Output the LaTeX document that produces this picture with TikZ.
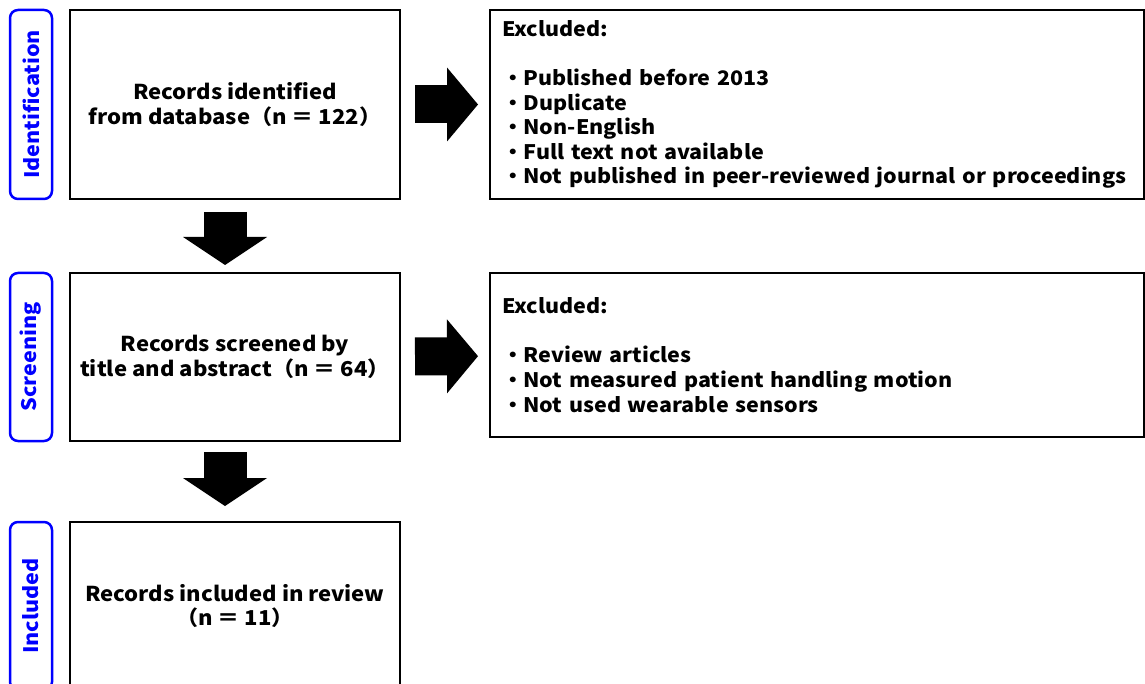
\documentclass[tikz,border=0pt]{standalone}
\usepackage{fontspec}
\setmainfont{Noto Sans CJK JP}[FakeStretch=1.075]
\usetikzlibrary{arrows.meta, positioning}
\definecolor{cStage}{HTML}{0000FF}
\tikzset{
  stagebox/.style={
    rectangle, rounded corners=8pt, draw=cStage, line width=2.5pt,
    minimum width=#1, minimum height=42pt, inner sep=0pt,
    rotate=90, text=cStage, font=\fontsize{20}{24}\selectfont\bfseries
  },
  recbox/.style={
    rectangle, draw=black, line width=2pt,
    minimum width=330pt, minimum height=#1, align=center,
    font=\fontsize{20.5}{24.6}\selectfont\bfseries
  },
  exbox/.style={
    rectangle, draw=black, line width=2pt,
    text width=630pt, inner xsep=12pt, minimum height=#1, align=left,
    font=\fontsize{20}{24.6}\selectfont\bfseries
  },
  downarrow/.style={line width=43pt,
    -{Triangle[length=28pt, width=84pt, line width=0pt]}},
  rightarrow/.style={line width=38pt,
    -{Triangle[length=31pt, width=74pt, line width=0pt]}},
}

\begin{document}
\begin{tikzpicture}[x=1pt, y=-1pt]
  \useasboundingbox (0,0) rectangle (1145,684);

  % Main records boxes
  \node[recbox=189pt] at (235,104.5) (ident) {Records identified\\from database（n ＝ 122）};
  \node[recbox=168pt, below=72pt of ident] (screen) {Records screened by\\title and abstract（n ＝ 64）};
  \node[recbox=168pt, below=79pt of screen] (incl) {Records included in review\\（n ＝ 11）};

  % Stage labels
  \node[stagebox=189pt] at (31,104.5) (sIdent) {Identification};
  \node[stagebox=168pt] at (31,357) (sScreen) {Screening};
  \node[stagebox=168pt] at (31,606) (sIncl) {Included};

  % Exclusion boxes
  \node[exbox=189pt, right=88pt of ident] (exc1) {
    Excluded:\\[24.6pt]
    ・Published before 2013\\
    ・Duplicate\\
    ・Non-English\\
    ・Full text not available\\
    ・Not published in peer-reviewed journal or proceedings
  };
  \node[exbox=164pt, right=88pt of screen, yshift=2pt] (exc2) {
    Excluded:\\[24.6pt]
    ・Review articles\\
    ・Not measured patient handling motion\\
    ・Not used wearable sensors
  };

  % Arrows
  \draw[downarrow, shorten <=12pt, shorten >=7pt]
    ([xshift=-10pt]ident.south) -- ([xshift=-10pt]screen.north);
  \draw[downarrow, shorten <=10pt, shorten >=15pt]
    ([xshift=-10pt]screen.south) -- ([xshift=-10pt]incl.north);
  \draw[rightarrow, shorten <=14pt, shorten >=11pt] (ident) -- (exc1);
  \draw[rightarrow, shorten <=14pt, shorten >=11pt] (screen) -- (exc2);

\end{tikzpicture}
\end{document}
